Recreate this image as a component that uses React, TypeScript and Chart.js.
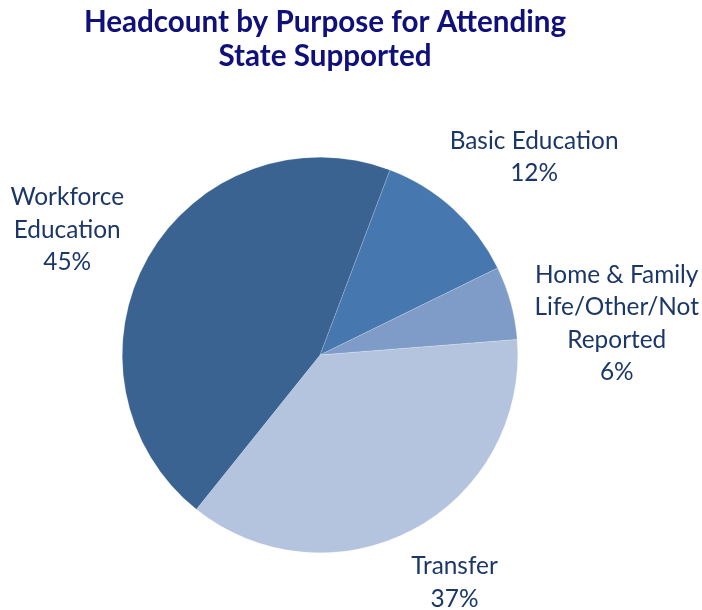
import React, { useEffect, useRef } from "react";
import { Chart, registerables } from "chart.js";

Chart.register(...registerables);

const TITLE_LINES = ["Headcount by Purpose for Attending", "State Supported"];
const CATEGORY_LINES: string[][] = [
  ["Basic Education"],
  ["Home & Family", "Life/Other/Not", "Reported"],
  ["Transfer"],
  ["Workforce", "Education"],
];
const CATEGORIES = CATEGORY_LINES.map((l) => l.join(" "));
const VALUES = [12, 6, 37, 45];
const COLORS = ["#4677AF", "#7F9CC8", "#B5C4DE", "#3A6392"];

// label block offsets (relative to outer midpoint of each slice) - styling only
const LABEL_OFFSETS: [number, number][] = [
  [81, -52],
  [106, 20],
  [42, 52],
  [-81, -28],
];

const FONT = "Lato, 'Open Sans', sans-serif";

const labelPlugin = {
  id: "customLabels",
  afterDraw(chart: any) {
    const ctx = chart.ctx as CanvasRenderingContext2D;
    ctx.save();
    // title
    ctx.fillStyle = "#10107A";
    ctx.font = `bold 29.6px ${FONT}`;
    ctx.textAlign = "center";
    ctx.textBaseline = "alphabetic";
    TITLE_LINES.forEach((t, i) => ctx.fillText(t, 325, 32 + i * 34));

    const meta = chart.getDatasetMeta(0);
    ctx.font = `24.4px ${FONT}`;
    ctx.fillStyle = "#1B3768";
    const lh = 32.5;
    meta.data.forEach((arc: any, i: number) => {
      const p = arc.getProps(["x", "y", "startAngle", "endAngle", "outerRadius"], true);
      const mid = (p.startAngle + p.endAngle) / 2;
      const px = p.x + Math.cos(mid) * p.outerRadius;
      const py = p.y + Math.sin(mid) * p.outerRadius;
      const lines = [...CATEGORY_LINES[i], `${VALUES[i]}%`];
      const cx = px + LABEL_OFFSETS[i][0];
      const cy = py + LABEL_OFFSETS[i][1];
      const total = (lines.length - 1) * lh;
      lines.forEach((ln, j) => {
        ctx.fillText(ln, cx, cy - total / 2 + j * lh + 8.5);
      });
    });
    ctx.restore();
  },
};

export default function App() {
  const ref = useRef<HTMLCanvasElement>(null);
  useEffect(() => {
    document.body.style.margin = "0";
    const chart = new Chart(ref.current!, {
      type: "pie",
      data: {
        labels: CATEGORIES,
        datasets: [
          {
            data: VALUES,
            backgroundColor: COLORS,
            borderColor: "rgba(255,255,255,0.35)",
            borderWidth: 0.5,
          },
        ],
      },
      options: {
        responsive: false,
        animation: false,
        rotation: 20.7,
        layout: { padding: { left: 122, right: 184, top: 157, bottom: 57 } },
        plugins: {
          legend: { display: false },
          title: { display: false },
          tooltip: { enabled: false },
        },
      },
      plugins: [labelPlugin],
    });
    return () => chart.destroy();
  }, []);
  return (
    <div style={{ position: "absolute", left: 0, top: 0, width: 702, height: 610, background: "#fff" }}>
      <canvas ref={ref} width={702} height={610} />
    </div>
  );
}
